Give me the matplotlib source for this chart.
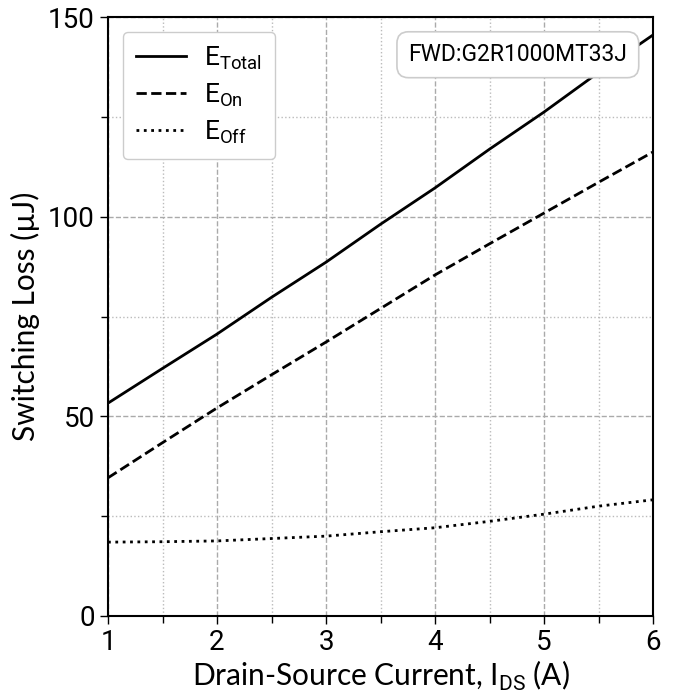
import matplotlib
matplotlib.use("Agg")
import matplotlib.pyplot as plt
from matplotlib.ticker import MultipleLocator

# values (uJ vs A)
current = [1, 1.5, 2, 2.5, 3, 3.5, 4, 4.5, 5, 5.5, 6]
e_total = [53.3, 62.0, 70.6, 79.8, 88.6, 98.1, 107.2, 116.9, 126.2, 136.1, 145.5]
e_on = [34.6, 43.4, 52.1, 60.4, 68.6, 77.0, 85.4, 93.2, 100.9, 108.6, 116.2]
e_off = [18.5, 18.6, 18.8, 19.4, 20.0, 21.1, 22.1, 23.7, 25.5, 27.5, 29.1]
labels = [r"E$_{\mathrm{Total}}$", r"E$_{\mathrm{On}}$", r"E$_{\mathrm{Off}}$"]
device = "FWD:G2R1000MT33J"

tick_font = "Roboto"
label_font = "Lato"
plt.rcParams["mathtext.fontset"] = "custom"
plt.rcParams["mathtext.rm"] = tick_font

fig = plt.figure(figsize=(6.73, 7.0), dpi=100)
ax = fig.add_axes([108 / 673, 84 / 700, 545 / 673, 599 / 700])

ax.plot(current, e_total, "-", color="black", lw=2, label=labels[0])
ax.plot(current, e_on, "--", color="black", lw=2, label=labels[1])
ax.plot(current, e_off, ":", color="black", lw=2, label=labels[2])

ax.set_xlim(1, 6)
ax.set_ylim(0, 150)
ax.xaxis.set_major_locator(MultipleLocator(1))
ax.xaxis.set_minor_locator(MultipleLocator(0.5))
ax.yaxis.set_major_locator(MultipleLocator(50))
ax.yaxis.set_minor_locator(MultipleLocator(25))
ax.grid(which="major", ls="--", color="#aaaaaa", lw=1)
ax.grid(which="minor", ls=":", color="#bbbbbb", lw=1)
ax.tick_params(which="both", direction="out", length=5, width=1)
ax.tick_params(which="major", length=6, labelsize=20)
for lab in ax.get_xticklabels() + ax.get_yticklabels():
    lab.set_fontfamily(tick_font)
for s in ax.spines.values():
    s.set_linewidth(1.5)

ax.set_xlabel(r"Drain-Source Current, I$_{\mathrm{DS}}$ (A)", fontsize=21.5,
              family=label_font, labelpad=2)
ax.set_ylabel("Switching Loss (µJ)", fontsize=21.5, family=label_font, labelpad=6)

leg = ax.legend(loc="upper left", prop={"family": tick_font, "size": 19},
                handlelength=1.9, handletextpad=0.7, borderpad=0.5,
                labelspacing=0.35, fancybox=True, framealpha=1,
                edgecolor="#cccccc", borderaxespad=0.55)

ax.text(0.752, 0.937, device, transform=ax.transAxes, ha="center", va="center",
        fontsize=16.5, family=tick_font,
        bbox=dict(boxstyle="round,pad=0.5", fc="white", ec="#cccccc", lw=1.2))

fig.savefig("out.png", dpi=100)
